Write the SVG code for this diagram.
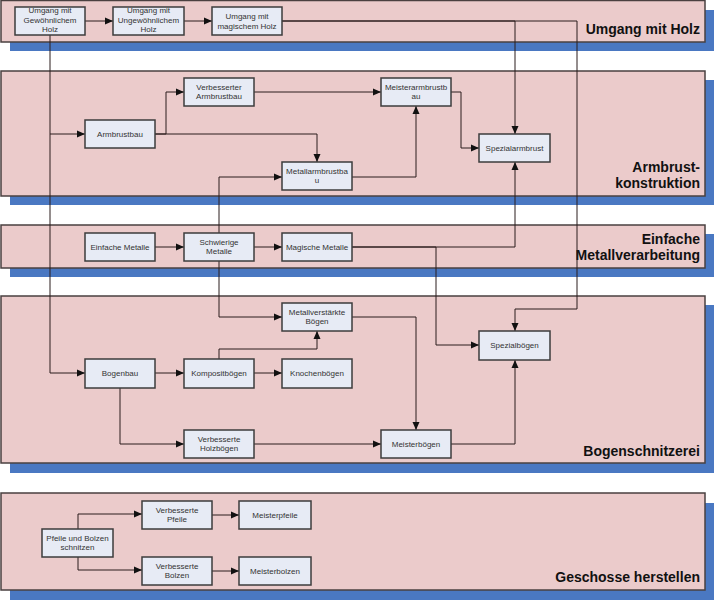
<svg xmlns="http://www.w3.org/2000/svg" width="714" height="600" viewBox="0 0 714 600">
<style>
.shadow{fill:#4a78c2}
.band{fill:#ebcbcb;stroke:#4a4040;stroke-width:1.5}
.blabel{font-family:"Liberation Sans",Arial,sans-serif;font-size:14px;font-weight:bold;fill:#111;text-anchor:end}
.node rect{fill:#e7ebf5;stroke:#3c3c3c;stroke-width:1.5}
.node text{font-family:"Liberation Sans",Arial,sans-serif;font-size:8px;fill:#333;text-anchor:middle}
.conn path{fill:none;stroke:#2a1c1c;stroke-width:1}
</style>
<defs>
<marker id="arr" markerUnits="userSpaceOnUse" markerWidth="9" markerHeight="8" refX="8" refY="4" orient="auto">
<path d="M0,0.5 L8,4 L0,7.5 z" fill="#111"/>
</marker>
</defs>
<rect width="714" height="600" fill="#fff"/>
<g id="bands">
<rect class="shadow" x="10" y="10" width="704" height="41"/>
<rect class="band" x="1" y="0.5" width="704" height="41.5"/>
<text class="blabel" x="700" y="34">Umgang mit Holz</text>
<rect class="shadow" x="10" y="80" width="704" height="125"/>
<rect class="band" x="1" y="71" width="704" height="125"/>
<text class="blabel" x="700" y="172">Armbrust-</text>
<text class="blabel" x="700" y="188">konstruktion</text>
<rect class="shadow" x="10" y="234" width="704" height="43"/>
<rect class="band" x="1" y="225" width="704" height="43"/>
<text class="blabel" x="700" y="243.5">Einfache</text>
<text class="blabel" x="700" y="259.5">Metallverarbeitung</text>
<rect class="shadow" x="10" y="305" width="704" height="168"/>
<rect class="band" x="1" y="296" width="704" height="167"/>
<text class="blabel" x="700" y="456">Bogenschnitzerei</text>
<rect class="shadow" x="10" y="503" width="704" height="97"/>
<rect class="band" x="1" y="493" width="704" height="97"/>
<text class="blabel" x="700" y="582">Geschosse herstellen</text>
</g>
<g id="connectors" class="conn">
<path d="M85,21 H113" marker-end="url(#arr)"/>
<path d="M184,21 H212" marker-end="url(#arr)"/>
<path d="M282,21 H515 V134" marker-end="url(#arr)"/>
<path d="M282,21 H577 V309 H515 V331" marker-end="url(#arr)"/>
<path d="M50,35 V134 H85" marker-end="url(#arr)"/>
<path d="M50,134 V373 H85" marker-end="url(#arr)"/>
<path d="M155,134 H166 V92 H184" marker-end="url(#arr)"/>
<path d="M155,134 H317 V162" marker-end="url(#arr)"/>
<path d="M254,92 H381" marker-end="url(#arr)"/>
<path d="M352,177 H416 V106" marker-end="url(#arr)"/>
<path d="M451,92 H461 V148 H479" marker-end="url(#arr)"/>
<path d="M219,233 V177 H282" marker-end="url(#arr)"/>
<path d="M219,261 V317 H282" marker-end="url(#arr)"/>
<path d="M155,247 H184" marker-end="url(#arr)"/>
<path d="M254,247 H282" marker-end="url(#arr)"/>
<path d="M352,247 H515 V162" marker-end="url(#arr)"/>
<path d="M352,247 H436 V345 H479" marker-end="url(#arr)"/>
<path d="M155,373 H184" marker-end="url(#arr)"/>
<path d="M254,373 H282" marker-end="url(#arr)"/>
<path d="M219,359 V349 H317 V331" marker-end="url(#arr)"/>
<path d="M120,388 V444 H184" marker-end="url(#arr)"/>
<path d="M254,444 H381" marker-end="url(#arr)"/>
<path d="M352,317 H416 V430" marker-end="url(#arr)"/>
<path d="M451,444 H515 V360" marker-end="url(#arr)"/>
<path d="M78,529 V514 H142" marker-end="url(#arr)"/>
<path d="M78,557 V570 H142" marker-end="url(#arr)"/>
<path d="M212,515 H239" marker-end="url(#arr)"/>
<path d="M212,571 H239" marker-end="url(#arr)"/>
</g>
<g id="n_gewoehnlich" class="node"><rect x="15" y="7" width="70" height="28"/><text x="50" y="13">Umgang mit</text><text x="50" y="22.5">Gewöhnlichem</text><text x="50" y="32">Holz</text></g>
<g id="n_ungewoehnlich" class="node"><rect x="113" y="7" width="71" height="28"/><text x="148.5" y="13">Umgang mit</text><text x="148.5" y="22.5">Ungewöhnlichem</text><text x="148.5" y="32">Holz</text></g>
<g id="n_magisch" class="node"><rect x="212" y="7" width="70" height="28"/><text x="247" y="19">Umgang mit</text><text x="247" y="28.5">magischem Holz</text></g>
<g id="n_armbrustbau" class="node"><rect x="85" y="120" width="70" height="28"/><text x="120" y="137">Armbrustbau</text></g>
<g id="n_verbarmbrust" class="node"><rect x="184" y="78" width="70" height="28"/><text x="219" y="89.5">Verbesserter</text><text x="219" y="99">Armbrustbau</text></g>
<g id="n_metallarmbrust" class="node"><rect x="282" y="162" width="70" height="28"/><text x="317" y="173.5">Metallarmbrustba</text><text x="317" y="183">u</text></g>
<g id="n_meisterarmbrust" class="node"><rect x="381" y="78" width="70" height="28"/><text x="416" y="89.5">Meisterarmbrustb</text><text x="416" y="99">au</text></g>
<g id="n_spezialarmbrust" class="node"><rect x="479" y="134" width="71" height="28"/><text x="514.5" y="151">Spezialarmbrust</text></g>
<g id="n_einfache" class="node"><rect x="85" y="233" width="70" height="28"/><text x="120" y="250">Einfache Metalle</text></g>
<g id="n_schwierige" class="node"><rect x="184" y="233" width="70" height="28"/><text x="219" y="244.5">Schwierige</text><text x="219" y="254">Metalle</text></g>
<g id="n_magische" class="node"><rect x="282" y="233" width="70" height="28"/><text x="317" y="250">Magische Metalle</text></g>
<g id="n_metallboegen" class="node"><rect x="282" y="303" width="70" height="28"/><text x="317" y="314.5">Metallverstärkte</text><text x="317" y="324">Bögen</text></g>
<g id="n_bogenbau" class="node"><rect x="85" y="359" width="70" height="29"/><text x="120" y="376">Bogenbau</text></g>
<g id="n_komposit" class="node"><rect x="184" y="359" width="70" height="29"/><text x="219" y="376">Kompositbögen</text></g>
<g id="n_knochen" class="node"><rect x="282" y="359" width="70" height="29"/><text x="317" y="376">Knochenbögen</text></g>
<g id="n_verbholz" class="node"><rect x="184" y="430" width="70" height="28"/><text x="219" y="441.5">Verbesserte</text><text x="219" y="451">Holzbögen</text></g>
<g id="n_meisterboegen" class="node"><rect x="381" y="430" width="70" height="28"/><text x="416" y="447">Meisterbögen</text></g>
<g id="n_spezialboegen" class="node"><rect x="479" y="331" width="71" height="29"/><text x="514.5" y="348">Spezialbögen</text></g>
<g id="n_pfeilebolzen" class="node"><rect x="42" y="529" width="71" height="28"/><text x="77.5" y="540.5">Pfeile und Bolzen</text><text x="77.5" y="550">schnitzen</text></g>
<g id="n_verbpfeile" class="node"><rect x="142" y="501" width="70" height="28"/><text x="177" y="512.5">Verbesserte</text><text x="177" y="522">Pfeile</text></g>
<g id="n_meisterpfeile" class="node"><rect x="239" y="501" width="72" height="28"/><text x="275" y="518">Meisterpfeile</text></g>
<g id="n_verbbolzen" class="node"><rect x="142" y="557" width="70" height="28"/><text x="177" y="568.5">Verbesserte</text><text x="177" y="578">Bolzen</text></g>
<g id="n_meisterbolzen" class="node"><rect x="239" y="557" width="72" height="28"/><text x="275" y="574">Meisterbolzen</text></g>
</svg>
